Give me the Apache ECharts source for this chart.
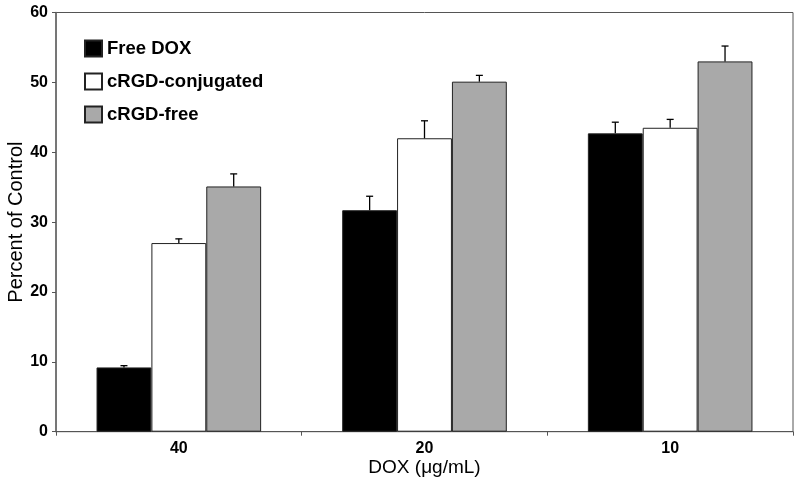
<!DOCTYPE html>
<html>
<head>
<meta charset="utf-8">
<script src="https://cdn.jsdelivr.net/npm/echarts@6/dist/echarts.min.js"></script>
<style>html,body{margin:0;padding:0;background:#fff}#c{width:800px;height:487px}</style>
</head>
<body>
<div id="c"></div>
<script>
var categories = ['40', '20', '10'];
var seriesNames = ['Free DOX', 'cRGD-conjugated', 'cRGD-free'];
var freeDox = [9.2, 31.7, 42.7];
var cRgdConj = [27.0, 42.0, 43.5];
var cRgdFree = [35.1, 50.1, 53.0];
var freeDoxErr = [0.25, 2.0, 1.6];
var cRgdConjErr = [0.6, 2.5, 1.2];
var cRgdFreeErr = [1.8, 0.9, 2.2];
var yTicks = [0, 10, 20, 30, 40, 50, 60];

var values = [freeDox, cRgdConj, cRgdFree];
var errs = [freeDoxErr, cRgdConjErr, cRgdFreeErr];
var colors = ['#000000', '#ffffff', '#a9a9a9'];
var gapRatio = 0.33;

var chart = echarts.init(document.getElementById('c'));
var series = [];
values.forEach(function (v, i) {
  series.push({
    name: seriesNames[i], type: 'bar', data: v, barGap: '0%', barCategoryGap: '33%',
    itemStyle: { color: colors[i], borderColor: '#222', borderWidth: 1 }
  });
});
values.forEach(function (v, i) {
  var d = v.map(function (val, k) { return [k, val, val + errs[i][k]]; });
  series.push({
    type: 'custom', name: 'err' + i, data: d, z: 10, silent: true,
    encode: { x: 0, y: [1, 2] },
    renderItem: function (params, api) {
      var k = api.value(0);
      var band = api.size([1, 0])[0];
      var bw = band * (1 - gapRatio) / 3;
      var p0 = api.coord([k, api.value(1)]);
      var p1 = api.coord([k, api.value(2)]);
      var x = p0[0] + (i - 1) * bw;
      var cap = 3.5;
      return {
        type: 'group', children: [
          { type: 'line', shape: { x1: x, y1: p0[1], x2: x, y2: p1[1] }, style: { stroke: '#000', lineWidth: 1.3 } },
          { type: 'line', shape: { x1: x - cap, y1: p1[1], x2: x + cap, y2: p1[1] }, style: { stroke: '#000', lineWidth: 1.3 } }
        ]
      };
    }
  });
});

chart.setOption({
  animation: false,
  backgroundColor: '#fff',
  grid: { left: 56, right: 7, top: 12.5, bottom: 55.3, show: true, borderColor: '#555', borderWidth: 1, backgroundColor: 'transparent', containLabel: false, outerBoundsMode: 'none' },
  legend: {
    data: seriesNames, orient: 'vertical', left: 79, top: 34, icon: 'rect',
    itemWidth: 17, itemHeight: 16, itemGap: 14,
    textStyle: { fontFamily: 'Liberation Sans, Arial', fontWeight: 'bold', fontSize: 18.5, color: '#000' }
  },
  xAxis: {
    type: 'category', data: categories,
    name: 'DOX (\u03bcg/mL)', nameLocation: 'middle', nameGap: 27, nameMoveOverlap: false,
    nameTextStyle: { fontFamily: 'Liberation Sans, Arial', fontSize: 19, color: '#000' },
    axisLine: { lineStyle: { color: '#555', width: 1.2 } },
    axisTick: { show: true, length: 4, lineStyle: { color: '#555' } },
    axisLabel: { fontFamily: 'Liberation Sans, Arial', fontWeight: 'bold', fontSize: 16, color: '#000', margin: 9 }
  },
  yAxis: {
    type: 'value', min: 0, max: 60, interval: 10,
    name: 'Percent of Control', nameLocation: 'middle', nameGap: 30, nameMoveOverlap: false,
    nameTextStyle: { fontFamily: 'Liberation Sans, Arial', fontSize: 20, color: '#000' },
    axisLine: { show: true, lineStyle: { color: '#666', width: 1.5 } },
    axisTick: { show: true, length: 4, lineStyle: { color: '#555' } },
    splitLine: { show: false },
    axisLabel: {
      fontFamily: 'Liberation Sans, Arial', fontWeight: 'bold', fontSize: 16, color: '#000', margin: 8,
      formatter: function (v) { return yTicks.indexOf(v) >= 0 ? String(v) : ''; }
    }
  },
  series: series
});
</script>
</body>
</html>
